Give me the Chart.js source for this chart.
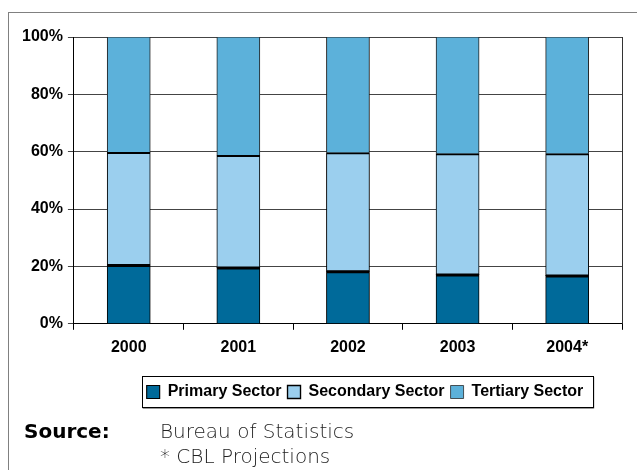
<!DOCTYPE html>
<html>
<head>
<meta charset="utf-8">
<script src="https://cdn.jsdelivr.net/npm/chart.js@4"></script>
<style>
  body { margin: 0; background: #fff; }
  #contenedor { position: relative; width: 637px; height: 470px; overflow: hidden; }
  #marco { position: absolute; left: 8px; top: 12px; width: 700px; height: 500px;
           border-left: 1px solid #808080; border-top: 1px solid #808080; }
  #grafico { position: absolute; left: 0; top: 0; }
  .fuente { position: absolute; font-family: 'DejaVu Sans', sans-serif; font-size: 20px; color: #222; white-space: nowrap; }
  #fuente_titulo { left: 24px; top: 419px; font-weight: bold; color: #000; }
  #fuente_1 { left: 160px; top: 419px; font-weight: 200; }
  #fuente_2 { left: 160px; top: 444px; font-weight: 200; }
</style>
</head>
<body>
<div id="contenedor">
  <div id="marco"></div>
  <canvas id="grafico" width="637" height="470"></canvas>
  <div class="fuente" id="fuente_titulo">Source:</div>
  <div class="fuente" id="fuente_1">Bureau of Statistics</div>
  <div class="fuente" id="fuente_2">* CBL Projections</div>
</div>
<script>
// datos (porcentaje del PIB por sector)
var anios = ['2000', '2001', '2002', '2003', '2004*'];
var primario = [20.5, 19.6, 18.3, 17.2, 16.8];
var secundario = [39.2, 39.1, 41.3, 42.1, 42.5];
var terciario = [40.3, 41.3, 40.4, 40.7, 40.7];
var marcasY = [0, 20, 40, 60, 80, 100];

Chart.defaults.font.family = "'Liberation Sans', Arial, sans-serif";
Chart.defaults.color = '#000';

// mueve la leyenda a su sitio y le pone el recuadro
var cajaLeyenda = {
  id: 'cajaLeyenda',
  afterLayout: function (chart) {
    var L = chart.legend;
    var dx = 365 - (L.left + L.right) / 2;
    var dy = 378 - L.top;
    L.left += dx; L.right += dx;
    L.top += dy; L.bottom += dy;
  },
  afterDraw: function (chart) {
    var ctx = chart.ctx;
    var cajas = chart.legend.legendHitBoxes;
    if (!cajas || !cajas.length) return;
    var x1 = cajas[0].left - 5;
    var ult = cajas[cajas.length - 1];
    var x2 = ult.left + ult.width + 9;
    var y1 = cajas[0].top - 8;
    var y2 = cajas[0].top + cajas[0].height + 7;
    ctx.save();
    ctx.strokeStyle = '#999';
    ctx.lineWidth = 1;
    ctx.beginPath();
    ctx.moveTo(x2 + 1.5, y1 + 1);
    ctx.lineTo(x2 + 1.5, y2 + 1.5);
    ctx.lineTo(x1 + 1, y2 + 1.5);
    ctx.stroke();
    ctx.strokeStyle = '#000';
    ctx.strokeRect(Math.round(x1) + 0.5, Math.round(y1) + 0.5, Math.round(x2 - x1), Math.round(y2 - y1));
    ctx.restore();
  }
};

// linea del borde derecho del area de trazado
var bordeDerecho = {
  id: 'bordeDerecho',
  beforeDatasetsDraw: function (chart) {
    var a = chart.chartArea;
    var ctx = chart.ctx;
    ctx.save();
    ctx.strokeStyle = '#333';
    ctx.lineWidth = 1;
    ctx.beginPath();
    ctx.moveTo(Math.round(a.right) + 0.5, a.top);
    ctx.lineTo(Math.round(a.right) + 0.5, a.bottom);
    ctx.stroke();
    ctx.restore();
  }
};

var ctx = document.getElementById('grafico').getContext('2d');
window.grafica = new Chart(ctx, {
  type: 'bar',
  data: {
    labels: anios,
    datasets: [
      {
        label: 'Primary Sector',
        data: primario,
        backgroundColor: '#006a9a',
        borderColor: '#000',
        borderWidth: { top: 2.5, left: 1, right: 1, bottom: 0 },
        borderSkipped: false
      },
      {
        label: 'Secondary Sector',
        data: secundario,
        backgroundColor: '#9bcfee',
        borderColor: '#000',
        borderWidth: { top: 2, left: 1, right: 1, bottom: 1.5 },
        borderSkipped: false
      },
      {
        label: 'Tertiary Sector',
        data: terciario,
        backgroundColor: '#5cb1da',
        borderColor: '#222',
        borderWidth: { top: 1, left: 1, right: 1, bottom: 0 },
        borderSkipped: false
      }
    ]
  },
  options: {
    responsive: false,
    animation: false,
    layout: { padding: { top: 37, left: 17, right: 15, bottom: 73 } },
    datasets: { bar: { barPercentage: 0.39, categoryPercentage: 1, inflateAmount: 0.5 } },
    plugins: {
      tooltip: { enabled: false },
      legend: {
        position: 'bottom',
        labels: {
          boxWidth: 13,
          boxHeight: 13,
          padding: 6,
          color: '#000',
          font: { size: 16, weight: 'bold' }
        }
      }
    },
    scales: {
      x: {
        stacked: true,
        offset: true,
        grid: { display: true, drawOnChartArea: false, offset: true, color: '#000', tickLength: 6 },
        border: { display: true, color: '#000', width: 1 },
        ticks: { padding: 8, font: { size: 16, weight: 'bold' }, color: '#000' }
      },
      y: {
        stacked: true,
        min: 0,
        max: 100,
        afterBuildTicks: function (eje) {
          eje.ticks = marcasY.map(function (v) { return { value: v }; });
        },
        grid: { color: '#444', tickLength: 6 },
        border: { display: true, color: '#000', width: 1 },
        ticks: {
          padding: 5,
          font: { size: 16, weight: 'bold' },
          color: '#000',
          callback: function (v) { return v + '%'; }
        }
      }
    }
  },
  plugins: [cajaLeyenda, bordeDerecho]
});
</script>
</body>
</html>
